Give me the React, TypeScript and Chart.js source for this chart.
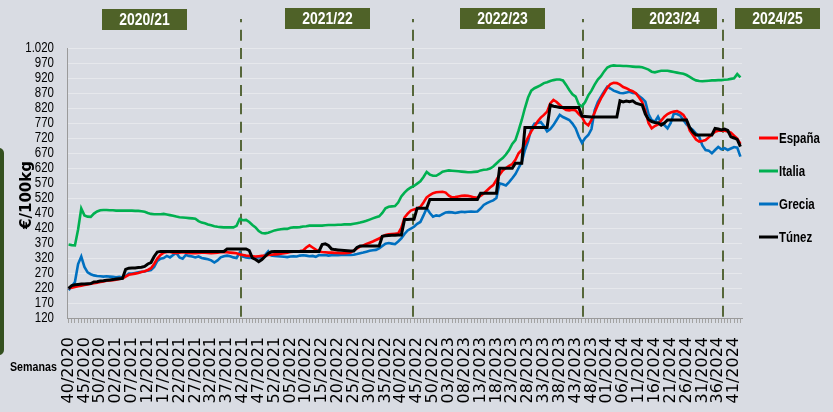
import React, { useEffect, useRef } from 'react';
import { Chart, registerables } from 'chart.js';

Chart.register(...registerables);

// ---------- DATA ----------
const WEEKS_IN_YEAR: Record<number, number> = { 2020: 53, 2021: 52, 2022: 52, 2023: 52, 2024: 52 };
const START = { year: 2020, week: 40 };
const END = { year: 2024, week: 43 };

function buildWeekLabels(): string[] {
  const out: string[] = [];
  let y = START.year;
  let w = START.week;
  for (;;) {
    out.push(`${String(w).padStart(2, '0')}/${y}`);
    if (y === END.year && w === END.week) break;
    w++;
    if (w > WEEKS_IN_YEAR[y]) { w = 1; y++; }
  }
  return out;
}
const WEEK_LABELS = buildWeekLabels();
const LABEL_EVERY = 5;

const SEASONS = ['2020/21', '2021/22', '2022/23', '2023/24', '2024/25'];
// season boundaries (week index on the x axis)
const SEASON_LINES = [54.4, 108.7, 162.3, 206.5];

const Y_MIN = 120;
const Y_MAX = 1020;
const Y_STEP = 50;

const ESPANA = [
  219, 221, 223, 226, 228, 230, 232, 234, 236, 238,
  240, 242, 244, 245, 246, 248, 250, 252, 258, 264,
  266, 268, 270, 273, 276, 280, 286, 300, 318, 330,
  338, 340, 340, 338, 337, 338, 339, 338, 337, 336,
  336, 337, 338, 338, 337, 336, 337, 338, 339, 340,
  339, 338, 337, 336, 332, 330, 328, 327, 326, 325,
  326, 327, 328, 330, 331, 332, 333, 334, 336, 338,
  340, 341, 342, 343, 345, 355, 362, 355, 348, 342,
  340, 339, 338, 338, 337, 337, 336, 336, 337, 338,
  345, 352, 358, 362, 367, 371, 375, 380, 385, 392,
  397, 399, 400, 401, 402, 420, 455, 468, 478, 482,
  485, 490, 505, 522, 530, 536, 539, 540, 541, 538,
  528, 522, 523, 525, 527, 528, 527, 525, 522, 521,
  527, 535, 545, 555, 563, 580, 598, 612, 620, 627,
  633, 647, 669, 680, 700, 722, 742, 758, 775, 788,
  797, 808, 835, 847, 840, 830, 820, 813, 812, 814,
  812, 800, 790, 770, 762, 780, 805, 830, 852, 870,
  888, 900, 904, 903, 898, 890, 886, 880, 876, 869,
  855, 840, 810, 770, 752, 760, 765, 778, 791, 800,
  805, 808, 810, 805, 797, 780, 745, 730, 715, 708,
  710, 713, 722, 732, 741, 744, 744, 744, 742, 738,
  728, 718, 700,
];

const ITALIA = [
  365, 363, 362, 415, 485, 462, 458, 457, 468, 475,
  479, 480, 480, 479, 479, 478, 478, 478, 478, 478,
  478, 477, 477, 476, 474, 470, 467, 466, 466, 466,
  467, 465, 463, 461, 458, 456, 455, 454, 453, 452,
  451, 443, 438, 436, 432, 429, 426, 424, 423, 422,
  422, 422, 422, 427, 450, 446, 447, 440, 430, 422,
  410, 403, 402, 404, 408, 412, 414, 416, 417, 417,
  421, 422, 422, 423, 425, 426, 428, 428, 428, 428,
  428, 429, 430, 430, 430, 431, 431, 432, 432, 432,
  434, 436, 438, 441, 444, 448, 452, 456, 459, 470,
  486, 491, 492, 493, 505, 525, 538, 548, 555, 560,
  568, 576, 590, 607, 598, 594, 594, 600, 608, 610,
  612, 611, 610, 609, 608, 607, 606, 606, 607, 608,
  612, 614, 615, 618, 625, 635, 645, 653, 665, 680,
  700, 713, 745, 780, 820, 855, 878, 886, 891, 896,
  903, 906, 910, 913, 915, 915, 912, 897, 880, 866,
  858, 832, 825, 840, 862, 878, 898, 915, 926, 942,
  955, 960, 962, 961, 961, 960, 960, 959, 958, 957,
  957, 956, 952, 948, 941, 939, 942, 944, 944, 944,
  942, 940, 938, 936, 934, 930, 924, 917, 912, 910,
  909, 910, 911, 912, 912, 913, 913, 914, 915, 917,
  919, 933, 922,
];

const GRECIA = [
  213, 225, 240, 300, 325, 290, 272, 266, 262, 260,
  259, 258, 259, 258, 257, 256, 257, 255, 260, 268,
  268, 270, 272, 274, 275, 278, 280, 290, 310, 318,
  320, 327, 322, 330, 337, 322, 318, 330, 327, 325,
  322, 325, 320, 318, 316, 312, 305, 312, 322, 326,
  328, 326, 322, 320, 338, 325, 322, 320, 321, 322,
  323, 322, 330, 342, 328, 327, 326, 325, 324, 323,
  325, 326, 325, 328, 329, 328, 326, 327, 324, 330,
  329, 330, 328, 329, 330, 329, 330, 330, 331, 330,
  331, 333, 336, 338, 341, 344, 346, 347, 352, 360,
  368, 370, 368, 366, 375, 385, 400, 412, 418, 424,
  434, 440, 462, 486, 470, 458, 462, 460, 466, 472,
  473, 472, 470, 472, 474, 473, 474, 475, 474, 475,
  485, 497, 503, 508, 512, 520, 569, 566, 562, 573,
  586, 600, 620, 640, 680, 710, 750, 768, 770, 773,
  760, 742, 750, 763, 780, 797, 790, 785, 780, 768,
  752, 725, 704, 720, 730, 750, 812, 840, 858, 875,
  891, 885, 878, 874, 870, 869, 872, 874, 870, 869,
  860, 852, 841, 800, 780, 774, 791, 770, 763, 752,
  770, 802, 800, 795, 780, 765, 755, 747, 735, 724,
  695, 680, 678, 669, 680, 690, 682, 686, 680, 685,
  690, 688, 658,
];

const TUNEZ = [
  219, 228, 231, 232, 233, 233, 234, 235, 240, 241,
  243, 244, 246, 247, 248, 250, 251, 252, 282, 286,
  287, 287, 288, 289, 292, 300, 305, 325, 340, 342,
  342, 342, 342, 342, 342, 342, 342, 342, 342, 342,
  342, 342, 342, 342, 342, 342, 342, 342, 342, 342,
  350, 350, 350, 350, 350, 350, 350, 345, 320, 315,
  308, 315, 325, 335, 341, 342, 342, 342, 342, 342,
  342, 342, 342, 342, 342, 342, 342, 342, 342, 342,
  365, 367, 362, 350, 348, 347, 346, 345, 344, 343,
  343, 355, 360, 360, 360, 360, 360, 360, 360, 392,
  394, 395, 396, 396, 397, 397, 448, 448, 449, 449,
  486, 486, 486, 486, 515, 515, 515, 515, 515, 515,
  515, 515, 515, 515, 515, 515, 515, 515, 515, 515,
  536, 536, 536, 536, 536, 536, 619, 619, 619, 619,
  619, 636, 636, 636, 755, 755, 755, 755, 755, 755,
  755, 755, 830, 826, 824, 822, 822, 822, 822, 822,
  822, 822, 793, 792, 791, 790, 790, 790, 790, 790,
  790, 790, 790, 790, 844, 840, 843, 841, 844, 836,
  833, 830, 800, 782, 775, 772, 771, 763, 770, 780,
  780, 780, 780, 780, 780, 780, 755, 740, 730, 730,
  730, 730, 730, 730, 752, 750, 747, 750, 745, 724,
  720, 715, 691,
];

const SERIES = [
  { label: 'España', data: ESPANA, color: '#ff0000', width: 2.6, order: 1 },
  { label: 'Italia', data: ITALIA, color: '#00b050', width: 2.6, order: 3 },
  { label: 'Grecia', data: GRECIA, color: '#0070c0', width: 2.6, order: 2 },
  { label: 'Túnez', data: TUNEZ, color: '#000000', width: 3, order: 0 },
];

// ---------- STYLE ----------
const BG = '#d9dce3';
const OLIVE = '#4f6228';
const DASH = '#56673a';
const SANS = "'Liberation Sans', Arial, sans-serif";
const SQUEEZE = 0.82;

function fmtThousands(v: number): string {
  return String(v).replace(/\B(?=(\d{3})+(?!\d))/g, '.');
}

function narrowText(ctx: CanvasRenderingContext2D, text: string, x: number, y: number, font: string,
  align: CanvasTextAlign, color: string, sx: number = SQUEEZE) {
  ctx.save();
  ctx.font = font;
  ctx.fillStyle = color;
  ctx.textAlign = align;
  ctx.textBaseline = 'middle';
  ctx.translate(x, y);
  ctx.scale(sx, 1);
  ctx.fillText(text, 0, 0);
  ctx.restore();
}

const decorPlugin = {
  id: 'decor',
  beforeDatasetsDraw(chart: any) {
    const { ctx, chartArea, scales } = chart;
    const x = scales.x;
    ctx.save();
    ctx.strokeStyle = DASH;
    ctx.lineWidth = 2;
    ctx.setLineDash([11, 7.4]);
    ctx.lineDashOffset = 7.7;
    for (const v of SEASON_LINES) {
      const px = Math.round(x.getPixelForValue(v));
      ctx.beginPath();
      ctx.moveTo(px, 19);
      ctx.lineTo(px, chartArea.bottom);
      ctx.stroke();
    }
    ctx.restore();
  },
  afterDraw(chart: any) {
    const { ctx, scales, chartArea } = chart;
    ctx.save();

    // y tick labels (condensed)
    const ys = scales.y;
    for (const t of ys.ticks) {
      const py = ys.getPixelForValue(t.value);
      narrowText(ctx, fmtThousands(t.value), chartArea.left - 13, py + 0.5, `14px ${SANS}`, 'right', '#000');
    }

    // season boxes
    const boxes = [102, 285, 460, 632, 735];
    const tops = [9, 8, 8, 8, 8];
    SEASONS.forEach((s, i) => {
      ctx.fillStyle = OLIVE;
      ctx.fillRect(boxes[i], tops[i], 85, 21);
      narrowText(ctx, s, boxes[i] + 42.5, tops[i] + 11, `bold 17px ${SANS}`, 'center', '#ffffff');
    });

    // legend
    const ly = [138, 171, 204, 237];
    SERIES.forEach((s, i) => {
      ctx.strokeStyle = s.color;
      ctx.lineWidth = 3;
      ctx.setLineDash([]);
      ctx.beginPath();
      ctx.moveTo(759, ly[i]);
      ctx.lineTo(778, ly[i]);
      ctx.stroke();
      narrowText(ctx, s.label, 779, ly[i] + 1, `bold 14px ${SANS}`, 'left', '#000');
    });

    // y title
    ctx.save();
    ctx.translate(27, 195);
    ctx.rotate(-Math.PI / 2);
    ctx.font = "bold 15px 'DejaVu Sans', sans-serif";
    ctx.fillStyle = '#000';
    ctx.textAlign = 'center';
    ctx.textBaseline = 'middle';
    ctx.fillText('€/100kg', 0, 0);
    ctx.restore();

    // x title
    narrowText(ctx, 'Semanas', 10, 367, `bold 13px ${SANS}`, 'left', '#000');

    // left green bar
    ctx.fillStyle = '#34501f';
    ctx.beginPath();
    (ctx as any).roundRect(-8, 148, 12, 207, 5);
    ctx.fill();
    ctx.restore();
  },
};

export default function App() {
  const ref = useRef<HTMLCanvasElement | null>(null);
  useEffect(() => {
    if (!ref.current) return;
    const chart = new Chart(ref.current, {
      type: 'line',
      data: {
        labels: WEEK_LABELS,
        datasets: SERIES.map((s) => ({
          label: s.label,
          data: s.data,
          borderColor: s.color,
          backgroundColor: s.color,
          borderWidth: s.width,
          pointRadius: 0,
          tension: 0,
          fill: false,
          order: s.order,
        })),
      },
      options: {
        animation: false,
        responsive: false,
        maintainAspectRatio: false,
        layout: { padding: { left: 0, top: 48, right: 91, bottom: 0 } },
        plugins: { legend: { display: false }, tooltip: { enabled: false } },
        scales: {
          x: {
            type: 'category',
            offset: true,
            grid: { display: true, drawOnChartArea: false, drawTicks: true, tickLength: 5, color: '#a3a3a3' },
            border: { display: true, color: '#9a9a9a', width: 1 },
            ticks: {
              autoSkip: false,
              minRotation: 90,
              maxRotation: 90,
              padding: 14,
              color: '#000',
              font: { family: "'DejaVu Sans', sans-serif", size: 16 },
              callback: (_v: any, i: number) => (i % LABEL_EVERY === 0 ? WEEK_LABELS[i] : ''),
            },
            afterFit: (s: any) => { s.height = 94; },
          },
          y: {
            min: Y_MIN,
            max: Y_MAX,
            grid: { color: '#e6e8ec', lineWidth: 1, drawTicks: false },
            border: { display: true, color: '#9a9a9a', width: 1 },
            ticks: {
              display: false,
              autoSkip: false,
              stepSize: Y_STEP,
            },
            afterFit: (s: any) => { s.width = 67; },
          },
        },
      },
      plugins: [decorPlugin],
    });
    return () => chart.destroy();
  }, []);
  return (
    <div style={{ position: 'fixed', left: 0, top: 0, width: 833, height: 412, background: BG }}>
      <canvas ref={ref} width={833} height={412} style={{ display: 'block', width: 833, height: 412 }} />
    </div>
  );
}
